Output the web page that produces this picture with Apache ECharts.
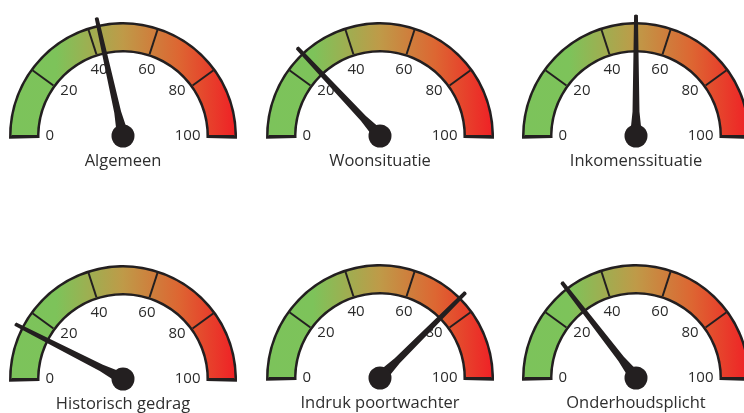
<!DOCTYPE html>
<html>
<head>
<meta charset="utf-8">
<script src="https://cdn.jsdelivr.net/npm/echarts@6/dist/echarts.min.js"></script>
<style>
html,body{margin:0;padding:0;background:#fff;}
#chart{width:744px;height:413px;}
</style>
</head>
<body>
<div id="chart"></div>
<script>
// Data
var categories = ['Algemeen', 'Woonsituatie', 'Inkomenssituatie', 'Historisch gedrag', 'Indruk poortwachter', 'Onderhoudsplicht'];
var values = [43, 26, 50, 15, 75, 29];
var scaleMin = 0;
var scaleMax = 100;
var tickCount = 5;

var centers = [[123, 136], [380, 136], [636, 136], [123, 379], [380, 378], [636, 378]];
var dark = '#231f20';
var R = 111.5;      // outer radius of coloured band
var W = 25.5;       // width of coloured band
var B = 2.5;        // outline thickness

var grad = new echarts.graphic.LinearGradient(0, 0, 1, 0, [
  { offset: 0, color: '#7cc35b' },
  { offset: 0.2, color: '#7dc35a' },
  { offset: 0.5, color: '#bf9a48' },
  { offset: 0.75, color: '#dd6632' },
  { offset: 1, color: '#ef2226' }
]);

var needle = 'path://M3.4,0.6 Q5,-0.6 6.6,0.6 L7.9,80 L10,100 L0,100 L2.1,80 Z';

var series = [];
categories.forEach(function (name, i) {
  // outline (back)
  series.push({
    type: 'gauge',
    center: centers[i],
    radius: R + B,
    startAngle: 181.4,
    endAngle: -1.4,
    min: scaleMin,
    max: scaleMax,
    silent: true,
    axisLine: { lineStyle: { width: W + 2 * B, color: [[1, dark]] } },
    splitLine: { show: false },
    axisTick: { show: false },
    axisLabel: { show: false },
    pointer: { show: false },
    anchor: { show: false },
    title: { show: false },
    detail: { show: false },
    data: []
  });
  // coloured band with ticks, labels, needle
  series.push({
    type: 'gauge',
    center: centers[i],
    radius: R,
    startAngle: 180,
    endAngle: 0,
    min: scaleMin,
    max: scaleMax,
    splitNumber: tickCount,
    axisLine: { lineStyle: { width: W, color: [[1, grad]] } },
    splitLine: { show: true, distance: -W, length: W, lineStyle: { color: dark, width: 2 } },
    axisTick: { show: false },
    axisLabel: {
      show: true,
      distance: 34,
      color: '#2b2b2b',
      fontSize: 15,
      fontFamily: 'Open Sans'
    },
    pointer: {
      show: true,
      icon: needle,
      length: '109%',
      width: 12,
      offsetCenter: [0, 0],
      itemStyle: { color: dark }
    },
    anchor: {
      show: true,
      showAbove: true,
      size: 23,
      itemStyle: { color: dark }
    },
    title: {
      show: true,
      offsetCenter: [0, 25],
      color: '#2e2e2e',
      fontSize: 16.5,
      fontFamily: 'Open Sans'
    },
    detail: { show: false },
    data: [{ value: values[i], name: name }]
  });
});

var chart = echarts.init(document.getElementById('chart'), null, { renderer: 'canvas' });
chart.setOption({
  animation: false,
  backgroundColor: '#ffffff',
  series: series
});
</script>
</body>
</html>
